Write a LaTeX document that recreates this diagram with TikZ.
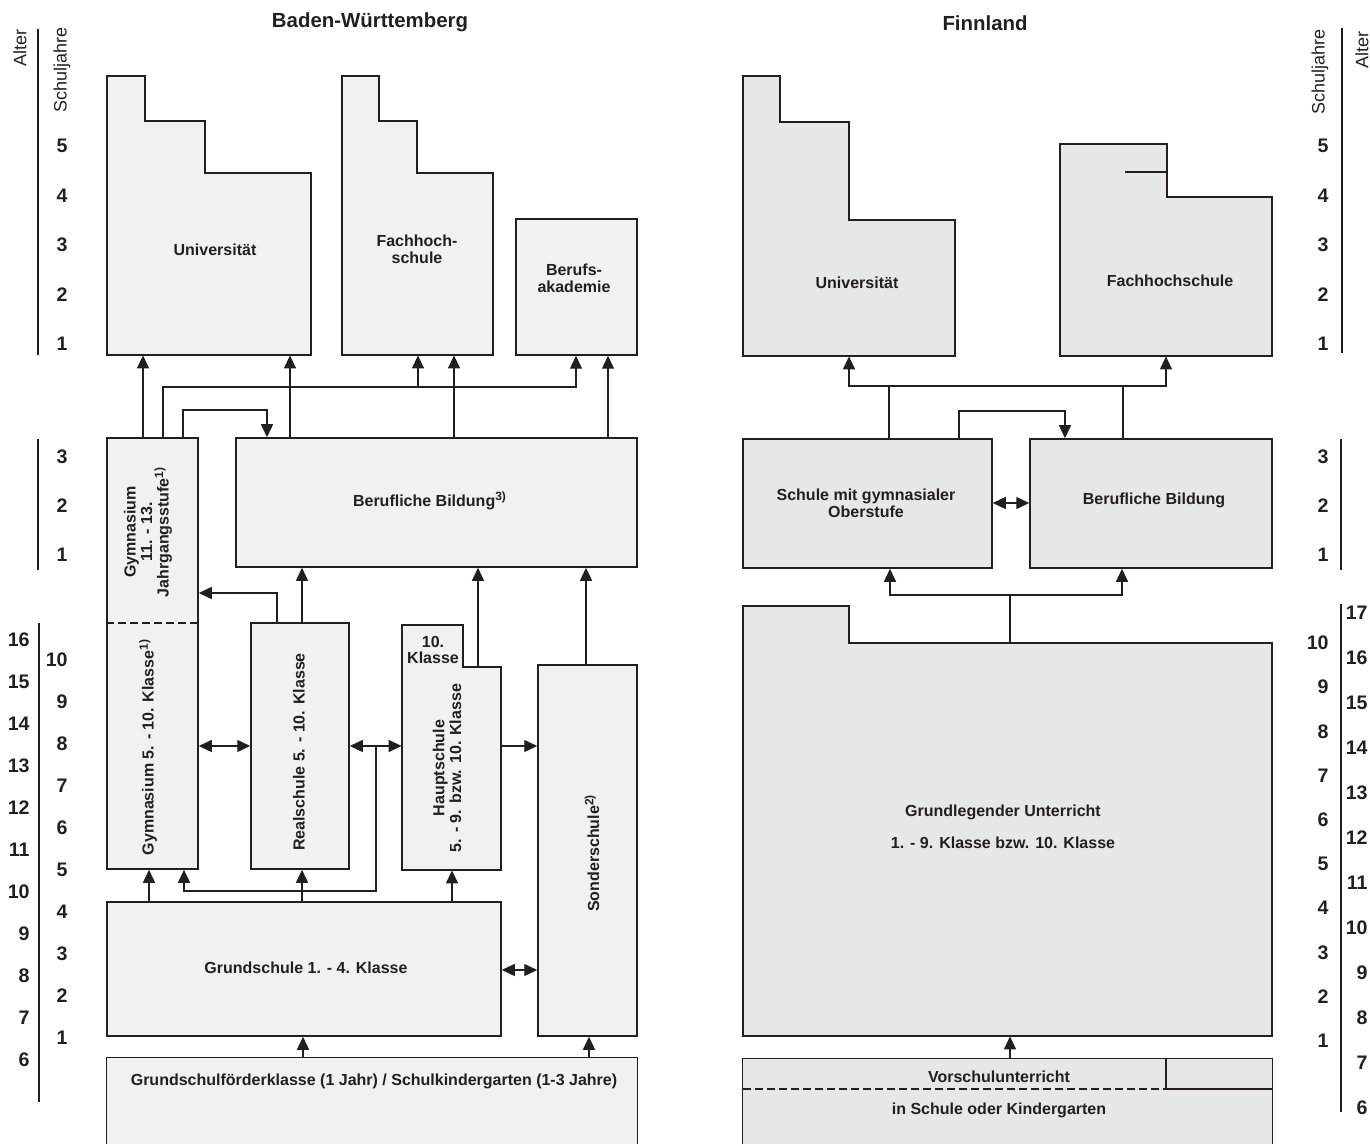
\documentclass[tikz,border=0pt]{standalone}
\usepackage{fontspec}
\setmainfont{Liberation Sans}
\usetikzlibrary{arrows.meta,fit}
\definecolor{ink}{HTML}{231F20}
\definecolor{bwfill}{HTML}{F1F1F1}
\definecolor{fifill}{HTML}{E6E7E8}

\begin{document}
\begin{tikzpicture}[x=0.5pt,y=-0.5pt,>={Triangle[length=6.5pt,width=6pt]},
  every node/.style={text=ink},
  bwbox/.style={draw=ink,fill=bwfill,line width=0.75pt},
  fibox/.style={draw=ink,fill=fifill,line width=0.75pt},
  area/.style={inner sep=0pt,fit={#1}},
  lbl/.style={font=\bfseries\fontsize{8}{8.3}\selectfont,align=center,inner sep=0pt},
  num/.style={font=\bfseries\fontsize{9.8}{11}\selectfont,inner sep=0pt,anchor=east},
  head/.style={font=\bfseries\fontsize{10.2}{12}\selectfont,inner sep=0pt},
  axis/.style={font=\fontsize{9}{10}\selectfont,rotate=90,inner sep=0pt},
  bar/.style={draw=ink,line width=1.1pt},
  link/.style={draw=ink,line width=0.7pt},
  sep/.style={draw=ink,line width=0.7pt,dash pattern=on 4pt off 2pt}]
  \useasboundingbox (0,0) rectangle (1370,1144);

  % scales, left
  \node[axis] at (20,48) {Alter};
  \node[axis] at (62,70) {Schuljahre};
  \draw[bar] (38,29) -- (38,355);
  \draw[bar] (38,439) -- (38,570);
  \draw[bar] (39,623) -- (39,1102);
  \foreach \n in {1,...,5} \node[num] at (68,{146+49.5*(5-\n)}) {\n};
  \foreach \n in {1,...,3} \node[num] at (68,{457+49*(3-\n)}) {\n};
  \foreach \n in {1,...,10} \node[num] at (68,{660+42*(10-\n)}) {\n};
  \foreach \n in {6,...,16} \node[num] at (30,{640+42*(16-\n)}) {\n};

  % scales, right
  \node[axis] at (1320,72) {Schuljahre};
  \node[axis] at (1362,50) {Alter};
  \draw[bar] (1342,28) -- (1342,353);
  \draw[bar] (1341,439) -- (1341,570);
  \draw[bar] (1341,604) -- (1341,1112);
  \foreach \n in {1,...,5} \node[num] at (1329,{146+49.5*(5-\n)}) {\n};
  \foreach \n in {1,...,3} \node[num] at (1329,{457+49*(3-\n)}) {\n};
  \foreach \n in {1,...,10} \node[num] at (1329,{643+44.2*(10-\n)}) {\n};
  \foreach \n in {6,...,17} \node[num] at (1368,{613+45*(17-\n)}) {\n};

  % Baden-Wuerttemberg
  \node[head] at (370,22) {Baden-Württemberg};
  \filldraw[bwbox] (107,355) |- (145,76) |- (205,121) |- (311,173) -- (311,355) -- cycle;
  \node[area={(107,173) (311,355)}] (uni) {};
  \node[lbl] at (215,250) {Universität};
  \filldraw[bwbox] (342,355) |- (379,76) |- (417,121) |- (493,173) -- (493,355) -- cycle;
  \node[area={(342,173) (493,355)}] (fh) {};
  \node[lbl] at (417,249) {Fachhoch-\\schule};
  \node[bwbox,area={(516,219) (637,355)}] (ba) {};
  \node[lbl] at (574,278) {Berufs-\\akademie};
  \node[bwbox,area={(236,438) (637,567)}] (bb) {};
  \node[lbl] at (430,501) {Berufliche Bildung\textsuperscript{3)}};
  \node[bwbox,area={(107,438) (198,869)}] (gym) {};
  \draw[sep] (gym.west |- 0,623) -- (gym.east |- 0,623);
  \node[lbl,rotate=90] at (148,532) {Gymnasium\\11. - 13.\\Jahrgangsstufe\textsuperscript{1)}};
  \node[lbl,rotate=90] at (148,747) {Gymnasium 5. - 10. Klasse\textsuperscript{1)}};
  \node[bwbox,area={(251,623) (349,869)}] (real) {};
  \node[lbl,rotate=90] at (299,752) {Realschule 5. - 10. Klasse};
  \filldraw[bwbox] (402,870) |- (463,625) |- (501,667) -- (501,870) -- cycle;
  \node[area={(402,667) (501,870)}] (haupt) {};
  \node[lbl] at (433,650) {10.\\Klasse};
  \node[lbl,rotate=90] at (447,768) {Hauptschule\\5. - 9. bzw. 10. Klasse};
  \node[bwbox,area={(538,665) (637,1036)}] (sonder) {};
  \node[lbl,rotate=90] at (592,853) {Sonderschule\textsuperscript{2)}};
  \node[bwbox,area={(107,902) (501,1036)}] (grund) {};
  \node[lbl] at (306,968) {Grundschule 1. - 4. Klasse};
  \node[fill=bwfill,area={(107,1058) (637,1144)}] (foerder) {};
  \draw[ink,line width=0.75pt] (foerder.south west) |- (foerder.north east) -- (foerder.south east);
  \node[lbl] at (374,1081) {Grundschulförderklasse (1 Jahr) / Schulkindergarten (1-3 Jahre)};

  \draw[link,->] (gym.north -| 143,0) -- (uni.south -| 143,0);
  \draw[link,->] (gym.north -| 163,0) -- (163,387) -| (ba.south -| 576,0);
  \draw[link,->] (418,387) -- (fh.south -| 418,0);
  \draw[link,->] (gym.north -| 183,0) -- (183,410) -| (bb.north -| 267,0);
  \draw[link,->] (bb.north -| 290,0) -- (uni.south -| 290,0);
  \draw[link,->] (bb.north -| 454,0) -- (fh.south -| 454,0);
  \draw[link,->] (bb.north -| 608,0) -- (ba.south -| 608,0);
  \draw[link,->] (real.north -| 277,0) |- (gym.east |- 0,593);
  \draw[link,->] (real.north -| 302,0) -- (bb.south -| 302,0);
  \draw[link,->] (haupt.north -| 478,0) -- (bb.south -| 478,0);
  \draw[link,->] (sonder.north -| 586,0) -- (bb.south -| 586,0);
  \draw[link,<->] (gym.east |- 0,746) -- (real.west |- 0,746);
  \draw[link,<->] (real.east |- 0,746) -- (haupt.west |- 0,746);
  \draw[link,->] (376,746) |- (184,891) -- (gym.south -| 184,0);
  \draw[link,->] (haupt.east |- 0,746) -- (sonder.west |- 0,746);
  \draw[link,->] (grund.north -| 149,0) -- (gym.south -| 149,0);
  \draw[link,->] (grund.north -| 302,0) -- (real.south -| 302,0);
  \draw[link,->] (grund.north -| 452,0) -- (haupt.south -| 452,0);
  \draw[link,<->] (grund.east |- 0,970) -- (sonder.west |- 0,970);
  \draw[link,->] (foerder.north -| 303,0) -- (grund.south -| 303,0);
  \draw[link,->] (foerder.north -| 589,0) -- (sonder.south -| 589,0);

  % Finnland
  \node[head] at (985,23) {Finnland};
  \filldraw[fibox] (743,356) |- (780,76) |- (849,122) |- (955,220) -- (955,356) -- cycle;
  \node[area={(743,220) (955,356)}] (funi) {};
  \node[lbl] at (857,283) {Universität};
  \filldraw[fibox] (1060,356) |- (1167,144) |- (1272,197) -- (1272,356) -- cycle;
  \draw[ink,line width=0.75pt] (1125,172) -- (1167,172);
  \node[area={(1060,197) (1272,356)}] (ffh) {};
  \node[lbl] at (1170,281) {Fachhochschule};
  \node[fibox,area={(743,439) (992,568)}] (schule) {};
  \node[lbl] at (866,503) {Schule mit gymnasialer\\Oberstufe};
  \node[fibox,area={(1030,439) (1272,568)}] (fbb) {};
  \node[lbl] at (1154,500) {Berufliche Bildung};
  \filldraw[fibox] (743,1036) |- (849,606) |- (1272,643) -- (1272,1036) -- cycle;
  \node[area={(743,643) (1272,1036)}] (fgl) {};
  \node[lbl] at (1003,812) {Grundlegender Unterricht};
  \node[lbl] at (1003,843) {1. - 9. Klasse bzw. 10. Klasse};
  \node[fill=fifill,area={(743,1059) (1272,1144)}] (vor) {};
  \draw[ink,line width=0.75pt] (vor.south west) |- (vor.north east) -- (vor.south east);
  \draw[ink,line width=0.75pt] (1166,1059) |- (1272,1089);
  \draw[sep] (vor.west |- 0,1089) -- (1166,1089);
  \node[lbl] at (999,1077) {Vorschulunterricht};
  \node[lbl] at (999,1110) {in Schule oder Kindergarten};

  \draw[link,<->] (funi.south -| 849,0) -- (849,386) -- (1166,386) -- (ffh.south -| 1166,0);
  \draw[link] (schule.north -| 889,0) -- (889,386);
  \draw[link] (fbb.north -| 1123,0) -- (1123,386);
  \draw[link,->] (schule.north -| 959,0) -- (959,411) -| (fbb.north -| 1065,0);
  \draw[link,<->] (schule.east |- 0,503) -- (fbb.west |- 0,503);
  \draw[link,<->] (schule.south -| 890,0) -- (890,595) -| (fbb.south -| 1122,0);
  \draw[link] (fgl.north -| 1010,0) -- (1010,595);
  \draw[link,->] (vor.north -| 1010,0) -- (fgl.south -| 1010,0);
\end{tikzpicture}
\end{document}
